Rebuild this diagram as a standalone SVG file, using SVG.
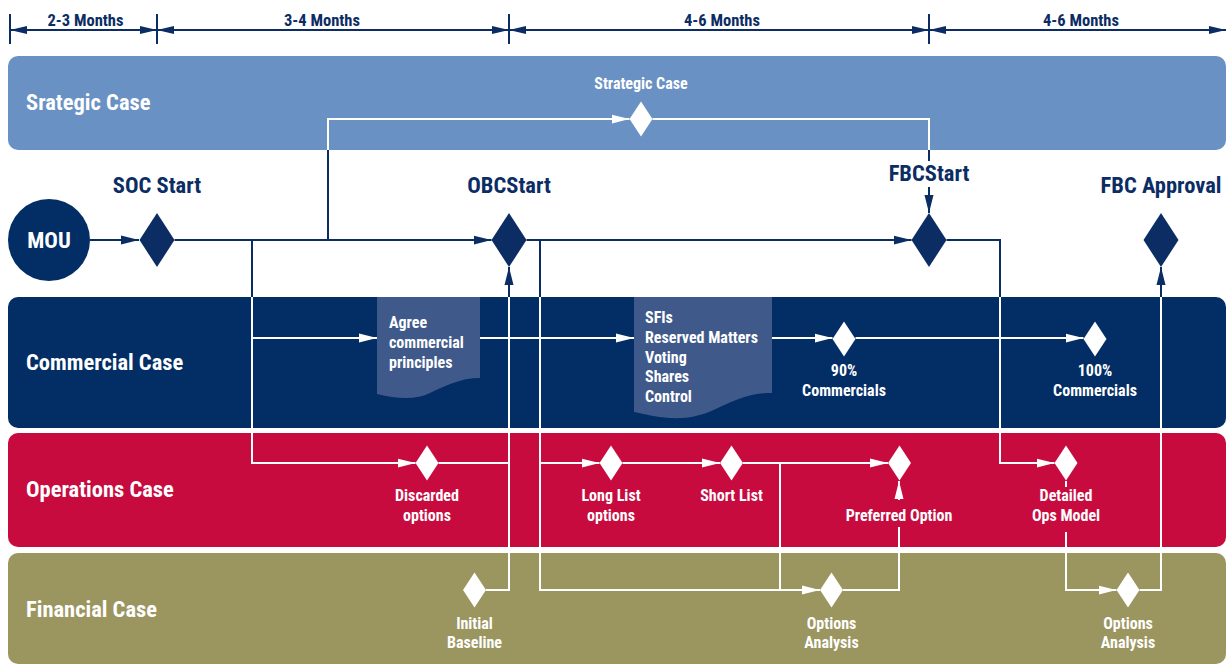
<svg xmlns="http://www.w3.org/2000/svg" width="1226" height="664" viewBox="0 0 1226 664">
<style>
text{font-family:'Roboto Condensed','Liberation Sans Narrow',Roboto,sans-serif;font-weight:bold}
.lane{font-size:22.5px;fill:#fff}
.big{font-size:22.5px;fill:#0b2d64;text-anchor:middle}
.tl{font-size:16.5px;fill:#0b2d64;text-anchor:middle}
.sm{font-size:16px;fill:#fff;text-anchor:middle}
.doc{font-size:16px;fill:#fff}
.w{fill:none;stroke:#fff;stroke-width:2}
.n{fill:none;stroke:#0b2d64;stroke-width:2}
.tk{fill:none;stroke:#0b2d64;stroke-width:2}
.dw{fill:#fff}
.dn{fill:#0b2d64}
</style>
<defs>
<marker id="aw" markerUnits="userSpaceOnUse" markerWidth="18" markerHeight="10" refX="18" refY="5" orient="auto"><path d="M0,0.5 L18,5 L0,9.5 Z" fill="#fff"/></marker>
<marker id="an" markerUnits="userSpaceOnUse" markerWidth="18" markerHeight="10" refX="18" refY="5" orient="auto"><path d="M0,0.5 L18,5 L0,9.5 Z" fill="#0b2d64"/></marker>
<marker id="at" markerUnits="userSpaceOnUse" markerWidth="17" markerHeight="9" refX="17" refY="4.5" orient="auto-start-reverse"><path d="M0,0.5 L17,4.5 L0,8.5 Z" fill="#0b2d64"/></marker>
</defs>

<g id="timeline">
<path class="tk" d="M10,14 V44 M157,14 V44 M509,14 V44 M929,14 V44"/>
<path class="tk" d="M10,30 H157" marker-start="url(#at)" marker-end="url(#at)"/>
<path class="tk" d="M157,30 H509" marker-start="url(#at)" marker-end="url(#at)"/>
<path class="tk" d="M509,30 H929" marker-start="url(#at)" marker-end="url(#at)"/>
<path class="tk" d="M929,30 H1226" marker-start="url(#at)" marker-end="url(#at)"/>
<text class="tl" x="85.5" y="26">2-3 Months</text>
<text class="tl" x="322" y="26">3-4 Months</text>
<text class="tl" x="722" y="26">4-6 Months</text>
<text class="tl" x="1081" y="26">4-6 Months</text>
</g>

<g id="lanes">
<g id="lane-strategic"><rect x="8" y="56" width="1218" height="94" rx="10" fill="#6991c3"/><text class="lane" x="26" y="110">Srategic Case</text></g>
<g id="lane-commercial"><rect x="8" y="297" width="1218" height="131" rx="10" fill="#022d65"/><text class="lane" x="26" y="370">Commercial Case</text></g>
<g id="lane-operations"><rect x="8" y="433" width="1218" height="114" rx="10" fill="#c70b3e"/><text class="lane" x="26" y="497">Operations Case</text></g>
<g id="lane-financial"><rect x="8" y="553" width="1218" height="111" rx="10" fill="#9b9560"/><text class="lane" x="26" y="617">Financial Case</text></g>
</g>

<g id="connectors">
<path class="n" d="M90,240 H139" marker-end="url(#an)"/>
<path class="n" d="M174.5,240 H491.5" marker-end="url(#an)"/>
<path class="n" d="M526.5,240 H911.5" marker-end="url(#an)"/>
<path class="n" d="M252,240 V297 M328,240 V150 M540,240 V297 M946.5,240 H1000 V297"/>
<path class="w" d="M328,150 V119 H629.5" marker-end="url(#aw)"/>
<path class="w" d="M652.5,119 H929 V150"/>
<path class="n" d="M929,150 V161 M929,187 V213" marker-end="url(#an)"/>
<path class="w" d="M252,297 V463 H415.5" marker-end="url(#aw)"/>
<path class="w" d="M252,338 H377" marker-end="url(#aw)"/>
<path class="w" d="M480,338 H634" marker-end="url(#aw)"/>
<path class="w" d="M772,338 H832.5" marker-end="url(#aw)"/>
<path class="w" d="M855.5,338 H1083.5" marker-end="url(#aw)"/>
<path class="w" d="M438.5,463 H509 M486,590 H509 V297"/>
<path class="n" d="M509,297 V267" marker-end="url(#an)"/>
<path class="w" d="M540,297 V590 H820" marker-end="url(#aw)"/>
<path class="w" d="M540,463 H599.5" marker-end="url(#aw)"/>
<path class="w" d="M622.5,463 H720" marker-end="url(#aw)"/>
<path class="w" d="M743,463 H888" marker-end="url(#aw)"/>
<path class="w" d="M780,463 V590"/>
<path class="w" d="M843,590 H899 V527 M899,500 V481" marker-end="url(#aw)"/>
<path class="w" d="M1000,297 V463 H1054.5" marker-end="url(#aw)"/>
<path class="w" d="M1066,481 V487 M1066,532 V590 H1116.5" marker-end="url(#aw)"/>
<path class="w" d="M1139.5,590 H1161 V297"/>
<path class="n" d="M1161,297 V267" marker-end="url(#an)"/>
</g>

<g id="mou"><circle cx="49" cy="240" r="41" fill="#022d65"/><text x="49" y="248" style="font-size:22.5px;fill:#fff;text-anchor:middle">MOU</text></g>
<g id="soc-start"><path class="dn" d="M157,213 L174.5,240 L157,267 L139.5,240 Z"/><text class="big" x="157" y="193">SOC Start</text></g>
<g id="obc-start"><path class="dn" d="M509,213 L526.5,240 L509,267 L491.5,240 Z"/><text class="big" x="509" y="193">OBCStart</text></g>
<g id="fbc-start"><path class="dn" d="M929,213 L946.5,240 L929,267 L911.5,240 Z"/><text class="big" x="929" y="181">FBCStart</text></g>
<g id="fbc-approval"><path class="dn" d="M1161,213 L1178.5,240 L1161,267 L1143.5,240 Z"/><text class="big" x="1161" y="193">FBC Approval</text></g>

<g id="strategic-case"><path class="dw" d="M641,101.5 L652.5,119 L641,136.5 L629.5,119 Z"/><text class="sm" x="641" y="89">Strategic Case</text></g>

<g id="agree"><path fill="#3f5a8a" d="M377,297 H480 V378 C460,378 445,386 430,393 C418,399 400,400 377,394 Z"/>
<text class="doc" x="389" y="328">Agree</text><text class="doc" x="389" y="348">commercial</text><text class="doc" x="389" y="368">principles</text></g>
<g id="sfis"><path fill="#3f5a8a" d="M634,297 H772 V393 C752,393 740,398 722,406 C705,415 690,419 670,418 C655,417 645,414 634,412 Z"/>
<text class="doc" x="645" y="323">SFIs</text><text class="doc" x="645" y="343">Reserved Matters</text><text class="doc" x="645" y="363">Voting</text><text class="doc" x="645" y="382">Shares</text><text class="doc" x="645" y="402">Control</text></g>
<g id="c90"><path class="dw" d="M844,321.5 L855.5,339 L844,356.5 L832.5,339 Z"/><text class="sm" x="844" y="376">90%</text><text class="sm" x="844" y="396">Commercials</text></g>
<g id="c100"><path class="dw" d="M1095,321.5 L1106.5,339 L1095,356.5 L1083.5,339 Z"/><text class="sm" x="1095" y="376">100%</text><text class="sm" x="1095" y="396">Commercials</text></g>

<g id="discarded"><path class="dw" d="M427,445.5 L438.5,463 L427,480.5 L415.5,463 Z"/><text class="sm" x="427" y="501">Discarded</text><text class="sm" x="427" y="521">options</text></g>
<g id="long-list"><path class="dw" d="M611,445.5 L622.5,463 L611,480.5 L599.5,463 Z"/><text class="sm" x="611" y="501">Long List</text><text class="sm" x="611" y="521">options</text></g>
<g id="short-list"><path class="dw" d="M731.5,445.5 L743,463 L731.5,480.5 L720,463 Z"/><text class="sm" x="731.5" y="501">Short List</text></g>
<g id="preferred"><path class="dw" d="M899.5,445.5 L911,463 L899.5,480.5 L888,463 Z"/><text class="sm" x="899" y="521">Preferred Option</text></g>
<g id="detailed"><path class="dw" d="M1066,445.5 L1077.5,463 L1066,480.5 L1054.5,463 Z"/><text class="sm" x="1066" y="501">Detailed</text><text class="sm" x="1066" y="521">Ops Model</text></g>

<g id="initial-baseline"><path class="dw" d="M474.5,572.5 L486,590 L474.5,607.5 L463,590 Z"/><text class="sm" x="474.5" y="629">Initial</text><text class="sm" x="474.5" y="648">Baseline</text></g>
<g id="options-analysis-1"><path class="dw" d="M831.5,572.5 L843,590 L831.5,607.5 L820,590 Z"/><text class="sm" x="831.5" y="629">Options</text><text class="sm" x="831.5" y="648">Analysis</text></g>
<g id="options-analysis-2"><path class="dw" d="M1128,572.5 L1139.5,590 L1128,607.5 L1116.5,590 Z"/><text class="sm" x="1128" y="629">Options</text><text class="sm" x="1128" y="648">Analysis</text></g>
</svg>
